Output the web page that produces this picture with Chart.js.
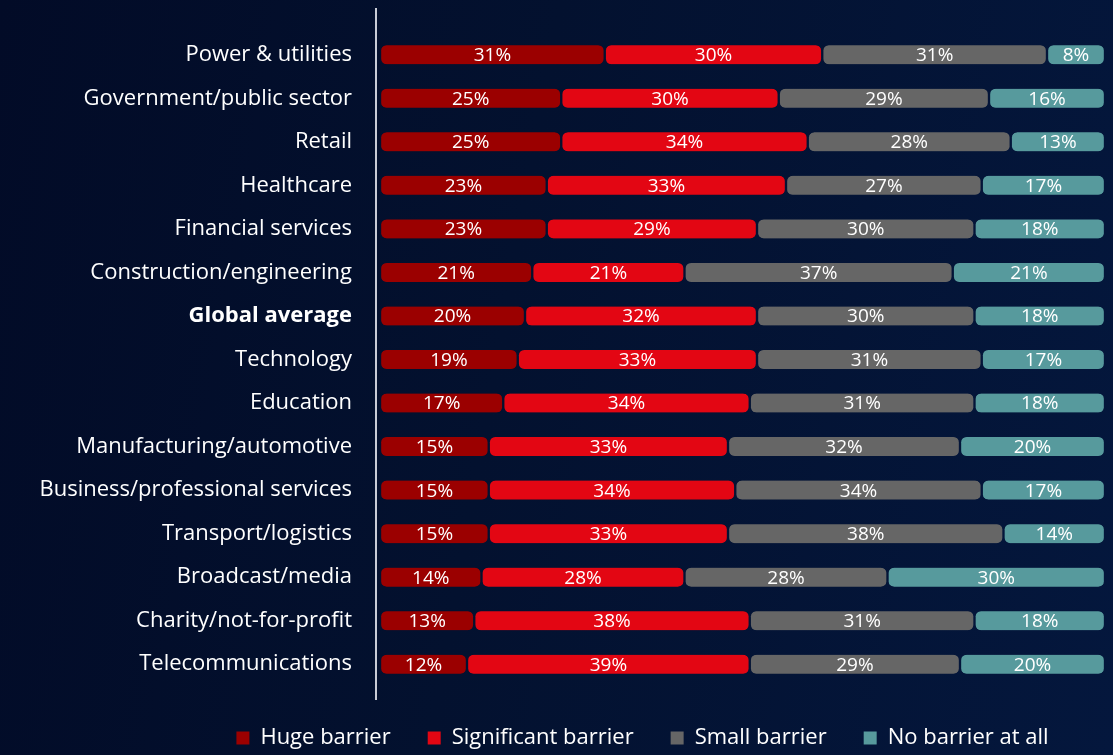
<!DOCTYPE html>
<html>
<head>
<meta charset="utf-8">
<script src="https://cdn.jsdelivr.net/npm/chart.js@4/dist/chart.umd.min.js"></script>
<style>
  html, body { margin: 0; padding: 0; }
  body {
    width: 1113px; height: 755px; overflow: hidden;
    background: linear-gradient(100deg, #020b27 0%, #03112f 45%, #04173d 100%);
  }
  canvas { display: block; }
</style>
</head>
<body>
<canvas id="barrierChart" width="1113" height="755"></canvas>
<script>
const sectors = [
    "Power & utilities", "Government/public sector", "Retail", "Healthcare",
    "Financial services", "Construction/engineering", "Global average", "Technology",
    "Education", "Manufacturing/automotive", "Business/professional services",
    "Transport/logistics", "Broadcast/media", "Charity/not-for-profit", "Telecommunications"
];
const hugeBarrier =        [31, 25, 25, 23, 23, 21, 20, 19, 17, 15, 15, 15, 14, 13, 12];
const significantBarrier = [30, 30, 34, 33, 29, 21, 32, 33, 34, 33, 34, 33, 28, 38, 39];
const smallBarrier =       [31, 29, 28, 27, 30, 37, 30, 31, 31, 32, 34, 38, 28, 31, 29];
const noBarrier =          [ 8, 16, 13, 17, 18, 21, 18, 17, 18, 20, 17, 14, 30, 18, 20];

const seriesNames = ["Huge barrier", "Significant barrier", "Small barrier", "No barrier at all"];
const seriesValues = [hugeBarrier, significantBarrier, smallBarrier, noBarrier];
const seriesColors = ["#9b0000", "#e30613", "#666666", "#579a9d"];

// floating bars so every segment gets its own rounded ends
const offsets = sectors.map(() => 0);
const datasets = seriesValues.map((vals, s) => {
    const data = vals.map((v, i) => {
        const seg = [offsets[i], offsets[i] + v];
        offsets[i] += v;
        return seg;
    });
    return {
        label: seriesNames[s],
        data: data,
        values: vals,
        backgroundColor: seriesColors[s],
        borderColor: "rgba(0,0,0,0)",
        borderWidth: { left: 1.5, right: 1.5, top: 0, bottom: 0 },
        borderRadius: 7,
        borderSkipped: false,
        barThickness: 19,
        grouped: false
    };
});

const FONT = "'Open Sans', sans-serif";

const valueLabels = {
    id: "valueLabels",
    afterDatasetsDraw(chart) {
        const c = chart.ctx;
        c.save();
        c.font = "19px " + FONT;
        c.fillStyle = "#ffffff";
        c.textAlign = "center";
        c.textBaseline = "middle";
        chart.data.datasets.forEach((ds, d) => {
            chart.getDatasetMeta(d).data.forEach((bar, i) => {
                c.fillText(ds.values[i] + "%", (bar.x + bar.base) / 2, bar.y + 1);
            });
        });
        c.restore();
    }
};

const axisLine = {
    id: "axisLine",
    beforeDatasetsDraw(chart) {
        const c = chart.ctx;
        const x = chart.chartArea.left - 4;
        c.save();
        c.strokeStyle = "#c9ccd6";
        c.lineWidth = 2;
        c.beginPath();
        c.moveTo(x, 8);
        c.lineTo(x, 700);
        c.stroke();
        c.restore();
    }
};

// centre the legend under the bars rather than the whole canvas
const legendShift = {
    id: "legendShift",
    afterLayout(chart) {
        const lg = chart.legend;
        lg.left = chart.chartArea.left - 200;
        lg.right = chart.chartArea.right;
        lg.top += 4;
        lg.bottom += 4;
    }
};

const ctx = document.getElementById("barrierChart").getContext("2d");
window.barrierChart = new Chart(ctx, {
    type: "bar",
    data: { labels: sectors, datasets: datasets },
    options: {
        indexAxis: "y",
        responsive: false,
        animation: false,
        devicePixelRatio: 1,
        layout: { padding: { left: 0, right: 8, top: 33, bottom: 0 } },
        scales: {
            x: { min: 0, max: 100, display: false },
            y: {
                grid: { display: false, drawTicks: false },
                border: { display: false },
                ticks: {
                    color: "#ffffff",
                    padding: 28,
                    font: (c) => ({
                        family: FONT,
                        size: 22,
                        weight: c.tick && c.tick.label === "Global average" ? "bold" : "normal"
                    })
                },
                afterFit(s) {
                    s.width = 380;
                    s.paddingTop = 0;
                    s.paddingBottom = 0;
                }
            }
        },
        plugins: {
            legend: {
                display: true,
                position: "bottom",
                labels: {
                    color: "#ffffff",
                    boxWidth: 13,
                    boxHeight: 13,
                    padding: 37,
                    font: { family: FONT, size: 22 },
                    generateLabels: (chart) => chart.data.datasets.map((ds, i) => ({
                        text: ds.label,
                        fillStyle: ds.backgroundColor,
                        strokeStyle: ds.backgroundColor,
                        lineWidth: 0,
                        fontColor: "#ffffff",
                        datasetIndex: i,
                        hidden: false
                    }))
                }
            },
            tooltip: { enabled: false }
        }
    },
    plugins: [axisLine, valueLabels, legendShift]
});
</script>
</body>
</html>
